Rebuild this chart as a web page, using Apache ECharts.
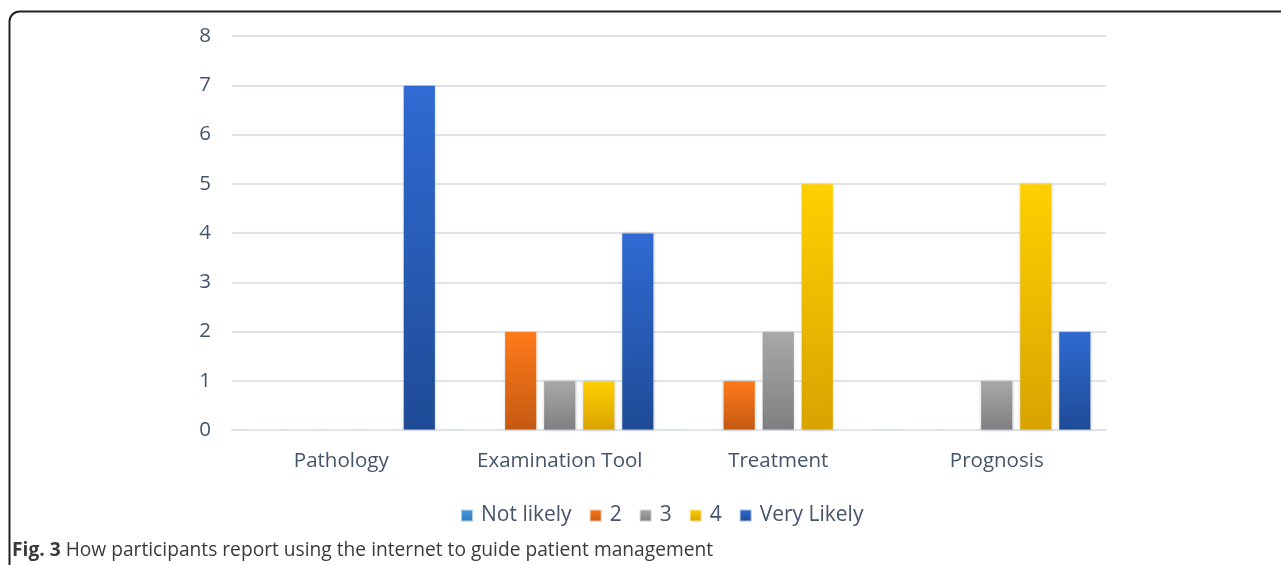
<!DOCTYPE html>
<html>
<head>
<meta charset="utf-8">
<script src="https://cdn.jsdelivr.net/npm/echarts@6/dist/echarts.min.js"></script>
<style>
  html, body { margin: 0; padding: 0; background: #fff; }
  #chart { width: 1281px; height: 565px; }
</style>
</head>
<body>
<div id="chart"></div>
<script>
// categories and values
const categories = ['Pathology', 'Examination Tool', 'Treatment', 'Prognosis'];
const seriesNames = ['Not likely', '2', '3', '4', 'Very Likely'];
const notLikely = [0, 0, 0, 0];
const two = [0, 2, 1, 0];
const three = [0, 1, 2, 1];
const four = [0, 1, 5, 5];
const veryLikely = [7, 4, 0, 2];
const yTicks = [0, 1, 2, 3, 4, 5, 6, 7, 8];

// top / bottom colours of each bar gradient
const colours = [
  ['#4a9de0', '#2f78bd'],
  ['#ff7a1a', '#c55a11'],
  ['#a9a9a9', '#7f7f7f'],
  ['#ffd000', '#d9a300'],
  ['#2f6bd3', '#1f4b96']
];

const chart = echarts.init(document.getElementById('chart'));
const textColor = '#44546a';
const font = '"Open Sans", sans-serif';

const grad = (c) => new echarts.graphic.LinearGradient(0, 0, 0, 1, [
  { offset: 0, color: c[0] }, { offset: 1, color: c[1] }
]);

const values = [notLikely, two, three, four, veryLikely];
const series = seriesNames.map((name, i) => ({
  name: name,
  type: 'bar',
  data: values[i],
  barWidth: 32,
  barGap: '22%',
  itemStyle: {
    color: grad(colours[i]),
    borderColor: 'rgba(255,255,255,0.6)',
    borderWidth: 0.5,
    shadowColor: 'rgba(0,0,0,0.18)',
    shadowBlur: 3
  }
}));

const option = {
  animation: false,
  textStyle: { fontFamily: font },
  grid: { left: 232, right: 175, top: 36, bottom: 135 },
  xAxis: {
    type: 'category',
    data: categories,
    axisTick: { show: false },
    axisLine: { lineStyle: { color: '#dfe3ea', width: 2 } },
    axisLabel: { color: textColor, fontSize: 20.5, margin: 21, fontFamily: font }
  },
  yAxis: {
    type: 'value',
    min: yTicks[0],
    max: yTicks[yTicks.length - 1],
    interval: 1,
    axisLine: { show: false },
    axisTick: { show: false },
    splitLine: { lineStyle: { color: '#dfe3ea', width: 2 } },
    axisLabel: { color: textColor, fontSize: 20.5, margin: 21, fontFamily: font }
  },
  legend: {
    data: seriesNames,
    top: 500,
    left: 455,
    itemWidth: 12,
    itemHeight: 12,
    itemGap: 17,
    icon: 'rect',
    textStyle: { color: textColor, fontSize: 21, fontFamily: font, padding: [0, 0, 0, 3] }
  },
  graphic: [
    {
      type: 'rect',
      shape: { x: 9.5, y: 11.5, width: 1320, height: 600, r: 10 },
      style: { fill: 'none', stroke: '#222', lineWidth: 2 }
    },
    {
      type: 'text',
      left: 12,
      top: 541,
      style: {
        text: '{b|Fig. 3} How participants report using the internet to guide patient management',
        fill: '#3a3a3a',
        font: '19.2px ' + font,
        rich: { b: { fontWeight: 'bold', fontSize: 19.2, fontFamily: font, fill: '#3a3a3a' } }
      }
    }
  ],
  series: series
};

chart.setOption(option);
</script>
</body>
</html>
